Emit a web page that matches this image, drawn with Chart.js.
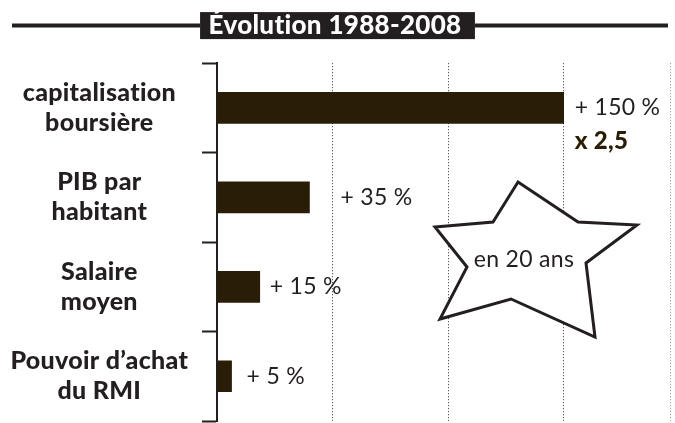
<!DOCTYPE html>
<html>
<head>
<meta charset="utf-8">
<script src="https://cdn.jsdelivr.net/npm/chart.js@4"></script>
<style>
  html, body { margin: 0; padding: 0; background: #fff; }
</style>
</head>
<body>
<canvas id="evolChart" width="675" height="423"></canvas>
<script>
// données
const categories = [
    ['capitalisation', 'boursière'],
    ['PIB par', 'habitant'],
    ['Salaire', 'moyen'],
    ['Pouvoir d\u2019achat', 'du RMI']
];
const barValues = [150, 40, 18.5, 6.3]; // longueurs
const valueLabels = ['+ 150 %', '+ 35 %', '+ 15 %', '+ 5 %'];
const extraLabel = 'x 2,5';
const starText = 'en 20 ans';
const titleText = '\u00c9volution 1988-2008';

const ink = '#231f20';
const barColor = '#2a1d08';

// bandeau du titre + lignes de part et d'autre
const titleBand = {
    id: 'titleBand',
    beforeDraw(chart) {
        const ctx = chart.ctx;
        const tb = chart.titleBlock;
        const cy = tb.top + 10 + 15.6;
        ctx.letterSpacing = '0.3px'; // pas de ligature "ti"
        ctx.save();
        ctx.font = '900 26px Lato';
        const w = ctx.measureText(titleText).width + 22;
        const cx = chart.width / 2;
        ctx.fillStyle = ink;
        ctx.fillRect(cx - w / 2, cy - 13.5, w, 27);
        ctx.strokeStyle = ink;
        ctx.lineWidth = 4;
        ctx.beginPath();
        ctx.moveTo(12, cy); ctx.lineTo(cx - w / 2, cy);
        ctx.moveTo(cx + w / 2, cy); ctx.lineTo(668, cy);
        ctx.stroke();
        ctx.restore();
    }
};

// étiquettes de valeur + étoile
const annotations = {
    id: 'annotations',
    afterDatasetsDraw(chart, args, opts) {
        const ctx = chart.ctx;
        const bars = chart.getDatasetMeta(0).data;
        ctx.save();
        ctx.textBaseline = 'middle';
        ctx.textAlign = 'left';
        bars.forEach((bar, i) => {
            ctx.font = '23px Lato';
            ctx.fillStyle = ink;
            ctx.fillText(valueLabels[i], bar.x + opts.offsets[i], bar.y);
            if (i === 0) {
                ctx.font = '900 24px Lato';
                ctx.fillStyle = '#2a1d05';
                ctx.fillText(extraLabel, bar.x + opts.offsets[i], bar.y + 33);
            }
        });

        // étoile
        const pts = opts.star;
        ctx.beginPath();
        pts.forEach((p, i) => i ? ctx.lineTo(p[0], p[1]) : ctx.moveTo(p[0], p[1]));
        ctx.closePath();
        ctx.fillStyle = '#fff';
        ctx.fill();
        ctx.strokeStyle = ink;
        ctx.lineWidth = 3;
        ctx.lineJoin = 'miter';
        ctx.stroke();
        ctx.fillStyle = ink;
        ctx.font = '23px Lato';
        ctx.textAlign = 'center';
        ctx.fillText(starText, 524, 260);
        ctx.restore();
    }
};

const ctx = document.getElementById('evolChart').getContext('2d');
const evolChart = new Chart(ctx, {
    type: 'bar',
    data: {
        labels: categories,
        datasets: [{
            data: barValues,
            backgroundColor: barColor,
            borderWidth: 0,
            barThickness: 31
        }]
    },
    options: {
        indexAxis: 'y',
        responsive: false,
        animation: false,
        layout: { padding: { top: 0, right: 5, bottom: 2, left: 0 } },
        scales: {
            x: {
                min: 0,
                max: 196,
                afterBuildTicks: (scale) => {
                    scale.ticks = [50, 100, 150, 196].map(v => ({ value: v }));
                },
                ticks: { display: false },
                border: { display: false, dash: [1, 2] },
                grid: {
                    drawTicks: false,
                    color: (c) => c.tick && c.tick.value === 196 ? '#8a8a8a' : '#333',
                    lineWidth: 1
                }
            },
            y: {
                afterFit: (scale) => {
                    scale.width = 217;
                    scale.paddingTop = 0;
                    scale.paddingBottom = 0;
                },
                ticks: {
                    crossAlign: 'center',
                    padding: 16,
                    color: ink,
                    font: { family: 'Lato', size: 25, weight: '900', lineHeight: 1.2 }
                },
                border: { display: true, color: ink, width: 2 },
                grid: {
                    drawOnChartArea: false,
                    drawTicks: true,
                    tickLength: 15,
                    tickColor: ink,
                    tickWidth: 2
                }
            }
        },
        plugins: {
            legend: { display: false },
            tooltip: { enabled: false },
            title: {
                display: true,
                text: titleText,
                color: '#fff',
                font: { family: 'Lato', size: 26, weight: '900', lineHeight: 1.2 },
                padding: { top: 10, bottom: 22 }
            },
            annotations: {
                offsets: [11, 31, 10, 15],
                star: [[518, 182], [578, 222], [637, 225], [586, 263], [595, 337],
                       [511, 299], [440, 319], [467, 267], [435, 227], [493, 222]]
            }
        }
    },
    plugins: [titleBand, annotations]
});
</script>
</body>
</html>
